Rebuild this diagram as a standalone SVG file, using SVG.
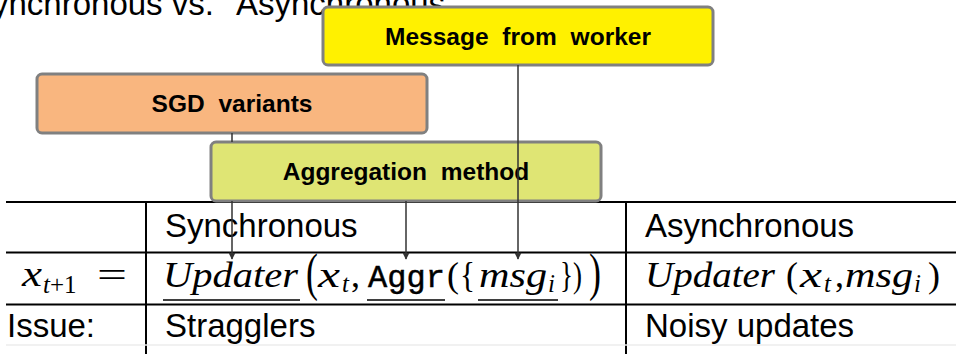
<svg xmlns="http://www.w3.org/2000/svg" width="956" height="354" viewBox="0 0 956 354">
  <defs>
    <marker id="arrow" viewBox="0 0 10 10" refX="9" refY="5" markerWidth="8" markerHeight="7" markerUnits="userSpaceOnUse" orient="auto">
      <path d="M0,0 L10,5 L0,10 z" fill="#333"/>
    </marker>
    <style>
      .sans { font-family: "Liberation Sans", Arial, sans-serif; fill: #000; font-size: 33px; }
      .box { stroke: #808080; stroke-width: 3; }
      .label { font-family: "Liberation Sans", Arial, sans-serif; font-weight: bold; font-size: 24.5px; word-spacing: 7px; text-anchor: middle; fill: #000; }
      .rule { stroke: #000; stroke-width: 2; fill: none; }
      .math { font-family: "Liberation Serif", "Times New Roman", serif; font-size: 36px; fill: #000; }
      .it { font-style: italic; }
      .sub { font-size: 25px; }
      .tt { font-family: "Liberation Mono", "Courier New", monospace; font-size: 32px; stroke: #000; stroke-width: 0.5; }
      .ul { stroke: #000; stroke-width: 1.4; }
      .conn { stroke: #333; stroke-width: 1.5; fill: none; marker-end: url(#arrow); }
    </style>
  </defs>

  <rect width="956" height="354" fill="#fff"/>

  <!-- slide title, running off the top edge -->
  <text class="sans" x="-30" y="15">Synchronous vs.<tspan x="236">Asynchronous</tspan></text>

  <!-- comparison table -->
  <g id="table">
    <path class="rule" d="M6,202 H956 M6,252.5 H956 M6,304.5 H956 M146,201 V354 M626,201 V354"/>
    <path d="M6,345 H956" stroke="#ececec" stroke-width="1.5"/>
    <text class="sans" x="165" y="237">Synchronous</text>
    <text class="sans" x="645" y="237">Asynchronous</text>
    <text class="sans" x="7" y="337">Issue:</text>
    <text class="sans" x="165" y="337">Stragglers</text>
    <text class="sans" x="645" y="337">Noisy updates</text>

    <!-- x_{t+1} = -->
    <g class="math">
      <text class="it" x="22" y="286" textLength="20" lengthAdjust="spacingAndGlyphs">x</text>
      <text class="sub" x="43" y="293"><tspan class="it">t</tspan>+1</text>
      <text x="97" y="287" textLength="30" lengthAdjust="spacingAndGlyphs">=</text>
    </g>

    <!-- Updater(x_t, Aggr({msg_i})) -->
    <g class="math">
      <text class="it" x="163" y="287" textLength="135" lengthAdjust="spacingAndGlyphs">Updater</text>
      <text transform="translate(306,290) scale(1,1.45)">(</text>
      <text class="it" x="318" y="287" textLength="22" lengthAdjust="spacingAndGlyphs">x</text>
      <text class="it sub" x="342" y="292">t</text>
      <text x="351" y="287">,</text>
      <text class="tt" x="368" y="287" textLength="77" lengthAdjust="spacing">Aggr</text>
      <text x="447" y="287">(</text>
      <text x="460" y="287" textLength="15" lengthAdjust="spacingAndGlyphs">{</text>
      <text class="it" x="479" y="287" textLength="68" lengthAdjust="spacingAndGlyphs">msg</text>
      <text class="it sub" x="548" y="292">i</text>
      <text x="560" y="287" textLength="22" lengthAdjust="spacingAndGlyphs">})</text>
      <text transform="translate(589,290) scale(1,1.45)">)</text>
      <path class="ul" d="M163,300 H300 M367,300 H445 M478,300 H558"/>
    </g>

    <!-- Updater(x_t, msg_i) -->
    <g class="math">
      <text class="it" x="645" y="287" textLength="130" lengthAdjust="spacingAndGlyphs">Updater</text>
      <text x="786" y="287">(</text>
      <text class="it" x="800" y="287" textLength="22" lengthAdjust="spacingAndGlyphs">x</text>
      <text class="it sub" x="824" y="292">t</text>
      <text x="835" y="287">,</text>
      <text class="it" x="845" y="287" textLength="68" lengthAdjust="spacingAndGlyphs">msg</text>
      <text class="it sub" x="914" y="292">i</text>
      <text x="928" y="287">)</text>
    </g>
  </g>

  <!-- callout boxes -->
  <g id="sgd-variants">
    <rect class="box" x="37" y="74" width="390" height="59" rx="5" fill="#F9B67F"/>
    <text class="label" x="232" y="112">SGD variants</text>
  </g>
  <g id="aggregation-method">
    <rect class="box" x="211" y="142" width="390" height="59" rx="5" fill="#DFE574"/>
    <text class="label" x="406" y="180">Aggregation method</text>
  </g>
  <g id="message-from-worker">
    <rect class="box" x="323" y="7" width="390" height="58" rx="5" fill="#FFF100"/>
    <text class="label" x="518" y="45">Message from worker</text>
  </g>

  <!-- pointers into the formula -->
  <g id="connectors">
    <path class="conn" d="M232,133 V142 M232,201 V259"/>
    <path class="conn" d="M406,201 V259"/>
    <path class="conn" d="M518,65 V259"/>
  </g>
</svg>
